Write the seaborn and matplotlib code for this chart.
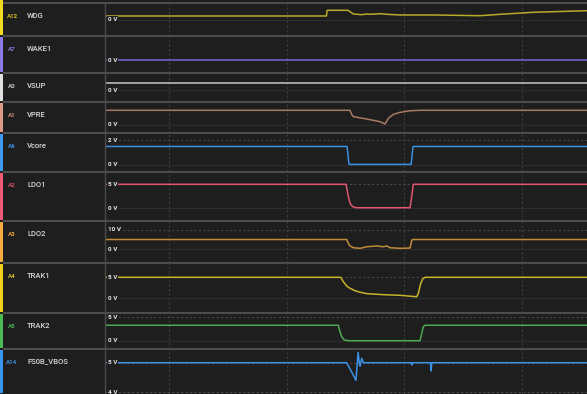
import numpy as np
import pandas as pd
import matplotlib
matplotlib.use('Agg')
import matplotlib.pyplot as plt
from matplotlib.patches import Rectangle
import seaborn as sns

BG = '#1e1e1e'
sns.set_theme(style='dark', rc={'axes.facecolor': BG, 'figure.facecolor': BG})
plt.rcParams['font.family'] = ['Roboto', 'DejaVu Sans']

# time in ms, voltages in V
wdg_t = [-5.45, 13.40, 13.45, 15.23, 15.69, 16.40, 16.83, 17.11, 17.96, 18.53, 19.66, 22.47, 26.47, 28.17, 30.98, 35.57]
wdg_v = [0.93, 0.93, 2.35, 2.35, 1.43, 1.25, 1.43, 1.35, 1.50, 1.35, 1.18, 1.18, 1.00, 1.35, 1.85, 2.25]

wake1_t = [-5.45, 35.57]
wake1_v = [0.0, 0.0]

vsup_t = [-5.45, 35.57]
vsup_v = [12.0, 12.0]

vpre_t = [-5.45, 15.40, 15.57, 15.69, 16.83, 17.96, 18.38, 18.66, 19.09, 19.66, 20.51, 21.36, 35.57]
vpre_v = [6.5, 6.5, 4.4, 3.7, 2.65, 1.45, 0.45, 2.95, 4.7, 5.6, 6.3, 6.5, 6.5]

vcore_t = [-5.45, 15.15, 15.32, 20.60, 20.77, 35.57]
vcore_v = [1.5, 1.5, 0.05, 0.05, 1.5, 1.5]

ldo1_t = [-5.45, 15.06, 15.29, 15.43, 15.63, 15.91, 20.51, 20.65, 20.79, 35.57]
ldo1_v = [5.0, 5.0, 2.1, 0.9, 0.33, 0.12, 0.12, 2.4, 5.0, 5.0]

ldo2_t = [-5.45, 15.12, 15.26, 15.40, 15.69, 16.26, 16.83, 17.68, 18.24, 18.53, 18.81, 19.66, 20.51, 20.66, 20.79, 35.57]
ldo2_v = [5.0, 5.0, 3.05, 1.7, 0.8, 0.5, 1.3, 1.7, 1.3, 1.7, 0.8, 0.5, 0.65, 4.7, 5.0, 5.0]

trak1_t = [-5.45, 14.61, 14.83, 15.12, 15.40, 15.83, 16.26, 16.83, 18.24, 19.66, 21.08, 21.22, 21.42, 21.59, 21.79, 35.57]
trak1_v = [5.0, 5.0, 3.95, 2.9, 2.35, 1.75, 1.4, 1.05, 0.8, 0.65, 0.3, 1.15, 3.55, 4.6, 5.0, 5.0]

trak2_t = [-5.45, 14.41, 14.55, 14.70, 14.89, 15.26, 21.36, 21.51, 21.64, 21.79, 35.57]
trak2_v = [3.3, 3.3, 1.9, 0.85, 0.2, 0.0, 0.0, 1.6, 3.0, 3.3, 3.3]

fs0b_t = [-5.45, 15.12, 15.91, 16.09, 16.20, 16.26, 16.40, 16.54, 20.60, 20.66, 20.71, 22.24, 22.30, 22.36, 35.57]
fs0b_v = [5.0, 5.0, 4.40, 5.35, 4.97, 4.88, 5.15, 5.0, 5.0, 4.92, 5.0, 5.0, 4.72, 5.0, 5.0]

channel_ids = ['A12', 'A7', 'A0', 'A1', 'A6', 'A2', 'A3', 'A4', 'A5', 'A14']
channel_names = ['WDG', 'WAKE1', 'VSUP', 'VPRE', 'Vcore', 'LDO1', 'LDO2', 'TRAK1', 'TRAK2', 'FS0B_VBOS']
channel_ticks = [[0], [0], [0], [0], [2, 0], [5, 0], [10, 0], [5, 0], [5, 0], [5, 4]]
series = [(wdg_t, wdg_v), (wake1_t, wake1_v), (vsup_t, vsup_v), (vpre_t, vpre_v),
          (vcore_t, vcore_v), (ldo1_t, ldo1_v), (ldo2_t, ldo2_v), (trak1_t, trak1_v),
          (trak2_t, trak2_v), (fs0b_t, fs0b_v)]

# styling / layout (pixels)
bar_colors = ['#f0dc1e', '#8a7be8', '#e0e0e0', '#d99a86', '#3f98f0', '#f05a74', '#f4aa40', '#f0d21e', '#4cbb55', '#3996f0']
id_colors = ['#d4c21a', '#8c79e6', '#c8c8c8', '#d68f7a', '#3d8fe0', '#e0506a', '#e8a23a', '#d8c420', '#47b04e', '#3a90e8']
line_colors = ['#b8aa2a', '#7b5fd8', '#c8c8c8', '#a97a66', '#3a8fe0', '#e0566e', '#c18a3c', '#c8b42a', '#4caa55', '#3b92e6']
seps = [3, 36, 73, 102, 133, 172, 221, 263, 313, 349, 394]
# (pixel row of the reference voltage, reference voltage, pixels per volt)
scales = [(19.7, 0, 4.0), (60.3, 0, 2.43), (90.3, 0, 7 / 12), (125, 0, 2.26), (165, 0, 12.35),
          (208.3, 0, 4.8), (249.3, 0, 1.96), (298, 0, 4.14), (340.7, 0, 4.68), (362.7, 5, 29.3)]

W, H = 587, 394
X0 = 105
T0, T1 = -5.45, 35.57

fig = plt.figure(figsize=(W / 100, H / 100), dpi=100)

for i in range(10):
    top, bot = seps[i], seps[i + 1]
    ax = fig.add_axes([X0 / W, 1 - bot / H, (W - X0) / W, (bot - top) / H])
    ax.set_facecolor(BG)
    ref_px, ref_v, ppv = scales[i]
    ax.set_xlim(T0, T1)
    ax.set_ylim(ref_v - (bot - ref_px) / ppv, ref_v + (ref_px - top) / ppv)
    ax.set_axis_off()

    for tv in [0, 10, 20, 30]:
        ax.axvline(tv, color='#3e3e3e', lw=0.8, ls=(0, (2, 2)), zorder=1)
    for k, val in enumerate(channel_ticks[i]):
        if val == 0:
            ax.axhline(val, color='#2e2e2e', lw=0.8, zorder=1)
        else:
            ax.axhline(val, color='#474747', lw=0.8, ls=(0, (2, 2)), zorder=1)
        ax.text(0.0058, val, '{} V'.format(val), transform=ax.get_yaxis_transform(),
                ha='left', va='center', fontsize=4.6, fontweight='bold', color='#e6e6e6',
                bbox=dict(boxstyle='square,pad=0.12', fc=BG, ec='none'), zorder=6)

    t, v = series[i]
    df = pd.DataFrame({'t': t, 'v': v})
    sns.lineplot(data=df, x='t', y='v', ax=ax, color=line_colors[i], linewidth=1.1,
                 sort=False, estimator=None, zorder=4)
    ax.set_axis_off()

# overlay for separators, colour bars and channel labels
ov = fig.add_axes([0, 0, 1, 1], zorder=10)
ov.set_xlim(0, W)
ov.set_ylim(H, 0)
ov.set_axis_off()
ov.patch.set_alpha(0)

ov.plot([X0, X0], [3, H], color='#4a4a4a', lw=1.0)
for y in seps[:-1]:
    ov.plot([2.5, W], [y, y], color='#4c4c4c', lw=1.5, solid_capstyle='butt')

for i in range(10):
    top, bot = seps[i], seps[i + 1]
    y0 = 0 if i == 0 else top + 1
    ov.add_patch(Rectangle((0, y0), 2.5, bot - y0 - 1, color=bar_colors[i], lw=0))
    ov.text(12, top + 13, channel_ids[i], ha='center', va='center', fontsize=4.4,
            fontweight='bold', color=id_colors[i])
    ov.text(27, top + 12.5, channel_names[i], ha='left', va='center', fontsize=5.5,
            fontweight='medium', color='#d8d8d8')

fig.savefig('out.png', dpi=100, facecolor=BG)
